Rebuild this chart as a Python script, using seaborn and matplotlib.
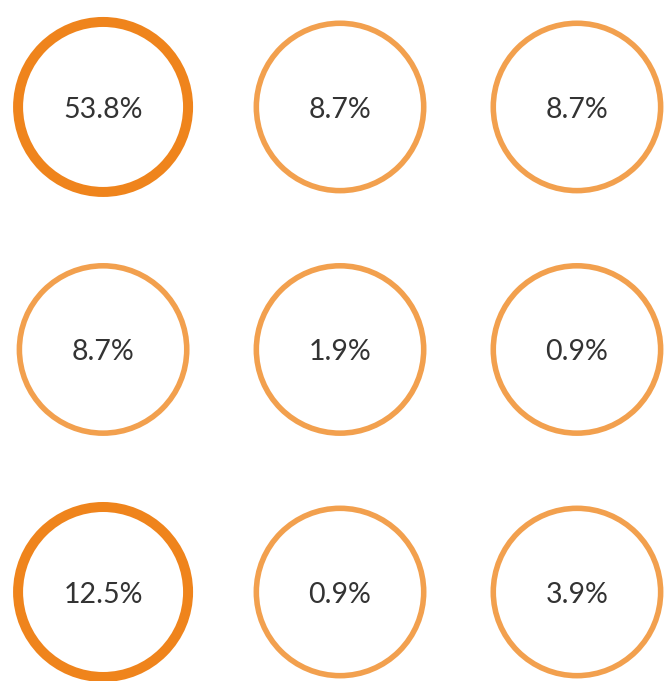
import pandas as pd
import seaborn as sns
import matplotlib.pyplot as plt

labels = ["53.8%", "8.7%", "8.7%", "8.7%", "1.9%", "0.9%", "12.5%", "0.9%", "3.9%"]
cols = [0, 1, 2, 0, 1, 2, 0, 1, 2]
rows = [0, 0, 0, 1, 1, 1, 2, 2, 2]
bold = [True, False, False, False, False, False, True, False, False]

df = pd.DataFrame({"col": cols, "row": rows, "label": labels, "bold": bold})

sns.set_style("white")
plt.rcParams['font.family'] = ['Lato', 'DejaVu Sans']

fig = plt.figure(figsize=(6.67, 6.81), dpi=100)
ax = fig.add_axes([0, 0, 1, 1])

# thin rings
thin = df[~df["bold"]]
sns.scatterplot(data=thin, x="col", y="row", ax=ax, marker="o", s=120.5**2,
                facecolor="none", edgecolor="#F2A04E", linewidth=4.0, legend=False)
# thick rings
thick = df[df["bold"]]
sns.scatterplot(data=thick, x="col", y="row", ax=ax, marker="o", s=122.4**2,
                facecolor="none", edgecolor="#EF841C", linewidth=7.2, legend=False)

for _, r in df.iterrows():
    ax.text(r["col"], r["row"] + 0.012, r["label"], ha="center", va="center",
            fontsize=20.5, color="#333333")

ax.set_xlim(-0.435, 2.38)
ax.set_ylim(2.367, -0.441)
ax.axis("off")

fig.savefig("out.png", dpi=100)
